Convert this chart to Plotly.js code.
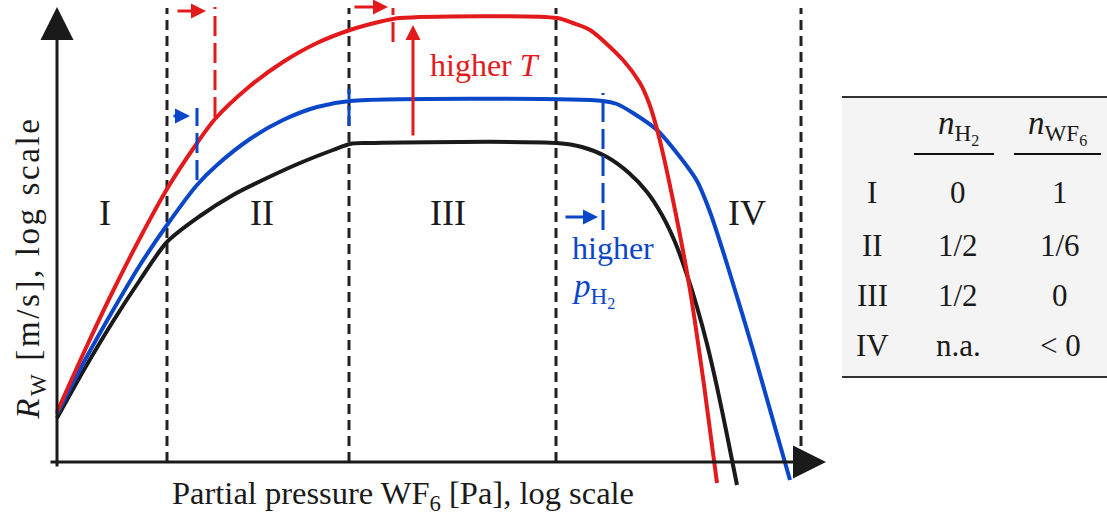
<!DOCTYPE html>
<html>
<head>
<meta charset="utf-8">
<script src="https://cdn.plot.ly/plotly-3.0.1.min.js"></script>
<style>
html,body{margin:0;padding:0;background:#fff;}
#chart{width:1107px;height:515px;}
#chart svg text{font-family:"Liberation Serif","Times New Roman",Times,serif !important;}
</style>
</head>
<body>
<div id="chart"></div>
<script>
// ---- Schematic data (arbitrary log units: x = log p(WF6), y = log R_W) ----
const blackX = [0, 28, 55, 83, 110, 143, 176, 210, 243, 276, 293, 310, 500, 525, 550, 572, 590, 605, 618, 630, 640, 650, 660, 670, 680];
const blackY = [44, 94, 139, 182, 220, 246, 267, 284, 299, 312, 318, 319, 319, 315, 305, 289, 270, 247, 220, 187, 155, 118, 75, 27, -23];

const blueX = [0, 28, 55, 83, 110, 140, 160, 193, 226, 260, 293, 546, 560, 576, 600, 623, 640, 653, 670, 696, 733];
const blueY = [48, 102, 150, 197, 237, 277, 297, 323, 342, 355, 361, 361, 358, 349, 332, 305, 281, 250, 198, 112, -18];

const redX = [0, 28, 55, 83, 110, 138, 158, 193, 226, 260, 293, 326, 343, 500, 516, 533, 566, 583, 592, 601, 617, 633, 647, 660];
const redY = [50, 112, 169, 224, 273, 316, 343, 376, 400, 419, 432, 441, 444, 444, 439, 432, 402, 379, 359, 329, 257, 172, 77, -21];

// region boundaries (black dashed) and labels
const regionBounds = [110, 292, 499, 744];
const regionNames = ['I', 'II', 'III', 'IV'];

// shifted transition markers
const redShiftMarks = [158, 336];
const blueShiftMarks = [140, 292, 546];

// table
const tableRows = ['I', 'II', 'III', 'IV'];
const nH2 = ['0', '1/2', '1/2', 'n.a.'];
const nWF6 = ['1', '1/6', '0', '< 0'];

// ---- styles ----
const RED = '#e31a1c', BLUE = '#0a46c8', BLK = '#1a1a1a';
const FONT = '"Liberation Serif", "Times New Roman", Times, serif';

const traces = [
  {x: blackX, y: blackY, mode: 'lines', line: {color: BLK, width: 4, shape: 'spline', smoothing: 0.8}, hoverinfo: 'skip'},
  {x: blueX, y: blueY, mode: 'lines', line: {color: BLUE, width: 4, shape: 'spline', smoothing: 0.8}, hoverinfo: 'skip'},
  {x: redX, y: redY, mode: 'lines', line: {color: RED, width: 4, shape: 'spline', smoothing: 0.8}, hoverinfo: 'skip'}
];

const shapes = [];
// table background & rules
shapes.push({type: 'rect', xref: 'x', yref: 'y', x0: 785, x1: 1050, y0: 85, y1: 365, fillcolor: '#f4f4f4', line: {width: 0}, layer: 'below'});
shapes.push({type: 'line', x0: 785, x1: 1050, y0: 365, y1: 365, line: {color: '#333', width: 2}});
shapes.push({type: 'line', x0: 785, x1: 1050, y0: 85, y1: 85, line: {color: '#333', width: 2}});
shapes.push({type: 'line', x0: 857, x1: 937, y0: 308, y1: 308, line: {color: '#111', width: 2}});
shapes.push({type: 'line', x0: 957, x1: 1044, y0: 308, y1: 308, line: {color: '#111', width: 2}});

// region boundaries
regionBounds.forEach(b => shapes.push({type: 'line', x0: b, x1: b, y0: 0, y1: 454,
  line: {color: '#222', width: 3, dash: '10px,6px'}, layer: 'below'}));

// shift markers
const redSpans = [[345, 455], [420, 454]];
redShiftMarks.forEach((m, i) => shapes.push({type: 'line', x0: m, x1: m, y0: redSpans[i][0], y1: redSpans[i][1],
  line: {color: RED, width: 3, dash: '20px,7px'}}));
const blueSpans = [[282, 354], [336, 373], [232, 369]];
blueShiftMarks.forEach((m, i) => shapes.push({type: 'line', x0: m, x1: m, y0: blueSpans[i][0], y1: blueSpans[i][1],
  line: {color: BLUE, width: 3, dash: '20px,7px'}}));

const ann = [];
function arrow(x, y, ax, ay, color, w, size) {
  ann.push({x: x, y: y, ax: ax, ay: ay, xref: 'x', yref: 'y', axref: 'x', ayref: 'y', text: '',
    showarrow: true, arrowhead: 2, arrowsize: size, arrowwidth: w, arrowcolor: color, standoff: 0});
}
// axes with arrow heads
arrow(0, 455, 0, -6, BLK, 3, 2.2);
arrow(769, 0, -8, 0, BLK, 3, 2.2);
// shift arrows
arrow(149, 451, 119, 451, RED, 3, 1.0);
arrow(331, 455, 296, 455, RED, 3, 1.0);
arrow(133, 346, 115, 346, BLUE, 3, 1.0);
arrow(541, 245, 507, 245, BLUE, 3, 1.0);
arrow(356, 437, 356, 325, RED, 3, 1.0);

function txt(x, y, t, size, color, xanchor, extra) {
  ann.push(Object.assign({x: x, y: y, xref: 'x', yref: 'y', text: t, showarrow: false,
    font: {family: FONT, size: size, color: color}, xanchor: xanchor || 'center', yanchor: 'middle'}, extra || {}));
}
const regionLabelX = [48, 205, 391, 690];
regionNames.forEach((r, i) => txt(regionLabelX[i], 249, r, 36, BLK));

txt(371, 397, 'higher <i>T</i>', 32, RED, 'left');
txt(513, 214, 'higher', 32, BLUE, 'left');
txt(513, 172, '<i>p</i><sub>H<sub>2</sub></sub>', 33, BLUE, 'left');

// axis titles
txt(346, -33, 'Partial pressure WF<sub>6</sub> [Pa], log scale', 32.5, BLK);
txt(-27, 194, '<i>R</i><sub>W</sub> [m/s], log scale', 33, BLK, 'center', {textangle: -90});

// table text
const rowY = [270, 217, 167, 117];
tableRows.forEach((r, i) => {
  txt(815, rowY[i], r, 31, BLK);
  txt(901, rowY[i], nH2[i], 31, BLK);
  txt(1003, rowY[i], nWF6[i], 31, BLK);
});
txt(901, 335, '<i>n</i><sub>H<sub>2</sub></sub>', 33, BLK);
txt(1000, 335, '<i>n</i><sub>WF<sub>6</sub></sub>', 33, BLK);

const layout = {
  width: 1107, height: 515,
  margin: {l: 0, r: 0, t: 0, b: 0},
  paper_bgcolor: '#fff', plot_bgcolor: '#fff',
  showlegend: false,
  font: {family: FONT},
  xaxis: {range: [-57, 1050], visible: false, fixedrange: true},
  yaxis: {range: [-53, 462], visible: false, fixedrange: true},
  shapes: shapes,
  annotations: ann
};
Plotly.newPlot('chart', traces, layout, {displayModeBar: false, staticPlot: true}).then(() => {
  document.querySelectorAll('#chart .annotation-text').forEach(t => {
    if (t.textContent.indexOf('m/s') >= 0) t.style.letterSpacing = '2.6px';
  });
});
</script>
</body>
</html>
